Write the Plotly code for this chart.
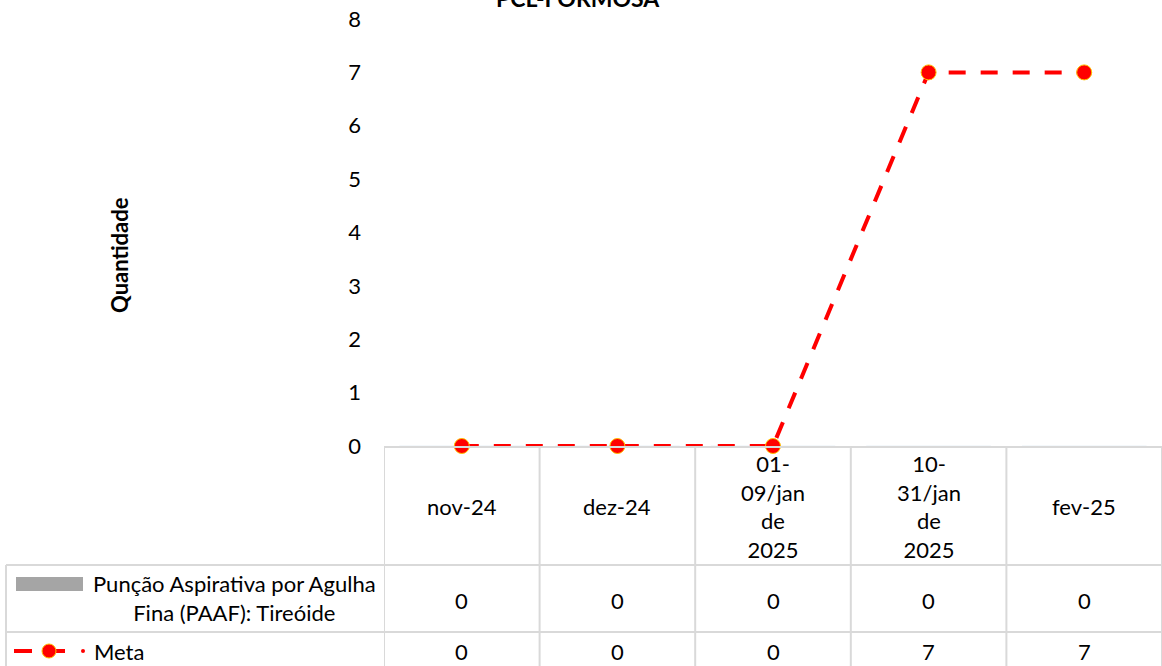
import plotly.graph_objects as go

categories = ["nov-24", "dez-24", "01-09/jan de 2025", "10-31/jan de 2025", "fev-25"]
header_labels = ["nov-24", "dez-24", "01-<br>09/jan<br>de<br>2025", "10-<br>31/jan<br>de<br>2025", "fev-25"]
paaf_values = [0, 0, 0, 0, 0]
meta_values = [0, 0, 0, 7, 7]
paaf_name = "Punção Aspirativa por Agulha Fina (PAAF): Tireóide"
meta_name = "Meta"
title_text = "PCL-FORMOSA"
y_title = "Quantidade"
y_ticks = [0, 1, 2, 3, 4, 5, 6, 7, 8]

W, H = 1162, 666
# screen positions of plot area
SL, ST, SB, SR = 384, 19, 446, 1162
L = SL
T = ST
B = H - SB
R = W - SR
PW, PH = W - L - R, H - T - B

FONT = "Lato, Calibri, Carlito, sans-serif"
FS = 22
GRID = "#D9D9D9"
RED = "#FF0000"
GRAY = "#A5A5A5"


def px(X):
    return (X - SL) / PW


def py(Y):
    return (SB - Y) / PH


fig = go.Figure()
fig.add_trace(go.Bar(x=categories, y=paaf_values, name=paaf_name, marker_color=GRAY, showlegend=False))
fig.add_trace(go.Scatter(
    x=categories, y=meta_values, name=meta_name, mode="lines+markers",
    line=dict(color=RED, width=4, dash="17px,15px"),
    marker=dict(size=15, color=RED, line=dict(color="#FFC000", width=1)),
    showlegend=False, cliponaxis=False,
))

shapes = []
annotations = []

# table vertical lines at category boundaries
for i in range(len(categories) + 1):
    shapes.append(dict(type="line", xref="x", yref="paper", x0=i - 0.5, x1=i - 0.5,
                       y0=0, y1=py(H + 5), line=dict(color=GRID, width=2)))
# horizontal lines
for Y in [565, 632]:
    shapes.append(dict(type="line", xref="paper", yref="paper", x0=px(6), x1=px(W + 2),
                       y0=py(Y), y1=py(Y), line=dict(color=GRID, width=2)))
shapes.append(dict(type="line", xref="paper", yref="paper", x0=px(6), x1=px(6),
                   y0=py(565), y1=py(H + 5), line=dict(color=GRID, width=2)))

# header labels
for c, lab in zip(categories, header_labels):
    annotations.append(dict(x=c, xref="x", y=py(506), yref="paper", text=lab, showarrow=False,
                            font=dict(family=FONT, size=FS, color="black"), xanchor="center", yanchor="middle"))
# values
for c, v in zip(categories, paaf_values):
    annotations.append(dict(x=c, xref="x", y=py(600), yref="paper", text=str(v), showarrow=False,
                            font=dict(family=FONT, size=FS, color="black"), xanchor="center", yanchor="middle"))
for c, v in zip(categories, meta_values):
    annotations.append(dict(x=c, xref="x", y=py(651), yref="paper", text=str(v), showarrow=False,
                            font=dict(family=FONT, size=FS, color="black"), xanchor="center", yanchor="middle"))

# legend keys inside the table
shapes.append(dict(type="rect", xref="paper", yref="paper", x0=px(16), x1=px(83), y0=py(577), y1=py(591),
                   fillcolor=GRAY, line=dict(width=0)))
annotations.append(dict(x=px(234), xref="paper", y=py(598), yref="paper",
                        text="Punção Aspirativa por Agulha<br>Fina (PAAF): Tireóide", showarrow=False,
                        align="center", font=dict(family=FONT, size=FS, color="black"),
                        xanchor="center", yanchor="middle"))
for x0, x1 in [(14, 32), (49, 65)]:
    shapes.append(dict(type="line", xref="paper", yref="paper", x0=px(x0), x1=px(x1), y0=py(651), y1=py(651),
                       line=dict(color=RED, width=4)))
shapes.append(dict(type="circle", xref="paper", yref="paper", x0=px(42), x1=px(56), y0=py(644), y1=py(658),
                   fillcolor=RED, line=dict(color="#FFC000", width=1)))
shapes.append(dict(type="circle", xref="paper", yref="paper", x0=px(81), x1=px(85), y0=py(649), y1=py(653),
                   fillcolor=RED, line=dict(width=0)))
annotations.append(dict(x=px(92), xref="paper", y=py(651), yref="paper", text=meta_name, showarrow=False,
                        font=dict(family=FONT, size=FS, color="black"), xanchor="left", yanchor="middle"))

# title and y-axis title
annotations.append(dict(x=px(578), xref="paper", y=py(-2), yref="paper", text="<b>" + title_text + "</b>",
                        showarrow=False, font=dict(family=FONT, size=23, color="black"),
                        xanchor="center", yanchor="middle"))
annotations.append(dict(x=px(120), xref="paper", y=py(255), yref="paper", text="<b>" + y_title + "</b>",
                        showarrow=False, textangle=-90, font=dict(family=FONT, size=FS, color="black"),
                        xanchor="center", yanchor="middle"))

fig.update_layout(
    width=W, height=H,
    margin=dict(l=L, r=R, t=T, b=B, pad=0),
    paper_bgcolor="white", plot_bgcolor="white",
    font=dict(family=FONT, size=FS, color="black"),
    shapes=shapes, annotations=annotations,
    xaxis=dict(type="category", range=[-0.5, len(categories) - 0.5], showticklabels=False,
               showgrid=False, zeroline=False, showline=True, linecolor=GRID, linewidth=2, ticks=""),
    yaxis=dict(range=[0, 8], tickvals=y_ticks, showgrid=False, zeroline=False, showline=False,
               ticks="", ticklabelstandoff=22, ticklabeloverflow="allow",
               tickfont=dict(family=FONT, size=FS, color="black")),
    showlegend=False,
)

fig.write_html(
    "out.html",
    config={"displayModeBar": False},
    post_script="document.body.style.margin='0';document.body.style.overflow='hidden';",
)
